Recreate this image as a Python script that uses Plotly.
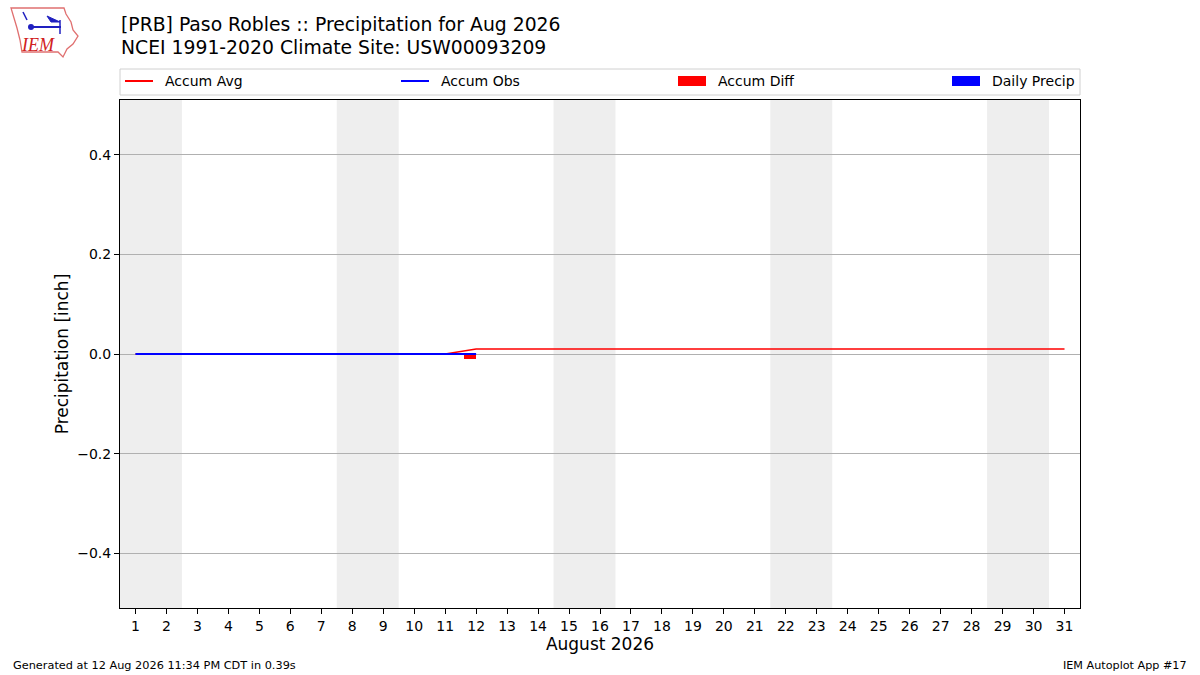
"""
Kumulativne padavine za mjesec — Paso Robles (PRB), avgust 2026.
Replika IEM Autoplot #17 u Plotly-ju.
"""

import plotly.graph_objects as go

# --- podaci ---------------------------------------------------------------
days = list(range(1, 32))
accum_avg = [0.00, 0.00, 0.00, 0.00, 0.00, 0.00, 0.00, 0.00, 0.00, 0.00,
             0.00, 0.01, 0.01, 0.01, 0.01, 0.01, 0.01, 0.01, 0.01, 0.01,
             0.01, 0.01, 0.01, 0.01, 0.01, 0.01, 0.01, 0.01, 0.01, 0.01,
             0.01]
obs_days = list(range(1, 13))
accum_obs = [0.00] * 12
accum_diff = [0.00, 0.00, 0.00, 0.00, 0.00, 0.00, 0.00, 0.00, 0.00, 0.00,
              0.00, -0.01]
daily_precip = [0.00] * 12
weekend_days = [1, 2, 8, 9, 15, 16, 22, 23, 29, 30]
y_ticks = [-0.4, -0.2, 0.0, 0.2, 0.4]

FONT = "DejaVu Sans"
W, H = 1200, 675
# okvir grafika u pikselima (kao u matplotlib originalu)
L, R, T, B = 120, 1080, 100, 608


def px(x):
    """piksel -> paper x (paper = površina grafika)"""
    return (x - L) / (R - L)


def py(y):
    return (B - y) / (B - T)


fig = go.Figure()

fig.add_trace(go.Bar(
    x=obs_days, y=accum_diff, name="Accum Diff", marker_color="#ff0000",
    width=0.4, offset=-0.4, marker_line_width=0, showlegend=False,
))
fig.add_trace(go.Bar(
    x=obs_days, y=daily_precip, name="Daily Precip", marker_color="#0000ff",
    width=0.4, offset=0.0, marker_line_width=0, showlegend=False,
))
fig.add_trace(go.Scatter(
    x=days, y=accum_avg, mode="lines", name="Accum Avg",
    line=dict(color="#ff0000", width=1.6), showlegend=False,
))
fig.add_trace(go.Scatter(
    x=obs_days, y=accum_obs, mode="lines", name="Accum Obs",
    line=dict(color="#0000ff", width=2.2), showlegend=False,
))

shapes = []
annotations = []

# vikendi — sivo zasjenčenje (spojeni susjedni dani)
blocks = []
for d in weekend_days:
    if blocks and d == blocks[-1][1] + 1:
        blocks[-1][1] = d
    else:
        blocks.append([d, d])
for d0, d1 in blocks:
    shapes.append(dict(type="rect", xref="x", yref="paper",
                       x0=d0 - 0.5, x1=d1 + 0.5, y0=0, y1=1,
                       fillcolor="#eeeeee", line_width=0, layer="below"))

# legenda u stilu matplotlib "expand" (ručno)
shapes.append(dict(type="rect", xref="paper", yref="paper",
                   x0=px(120), x1=px(1080), y0=py(95), y1=py(69),
                   line=dict(color="#d0d0d0", width=1), fillcolor="white"))
legend_x = {"Accum Avg": 125, "Accum Obs": 401,
            "Accum Diff": 678, "Daily Precip": 952}
for tr in (fig.data[2], fig.data[3], fig.data[0], fig.data[1]):
    x0 = legend_x[tr.name]
    if tr.type == "scatter":
        shapes.append(dict(type="line", xref="paper", yref="paper",
                           x0=px(x0), x1=px(x0 + 28), y0=py(81), y1=py(81),
                           line=dict(color=tr.line.color, width=2)))
    else:
        shapes.append(dict(type="rect", xref="paper", yref="paper",
                           x0=px(x0), x1=px(x0 + 28), y0=py(86), y1=py(76),
                           fillcolor=tr.marker.color, line_width=0))
    annotations.append(dict(text=tr.name, x=px(x0 + 38), y=py(81),
                            xref="paper", yref="paper", xanchor="left",
                            yanchor="middle", showarrow=False,
                            font=dict(family=FONT, size=14, color="black")))

# grubi IEM logo (obris Ajove + vjetrokaz)
iowa = [(11, 8), (64, 8), (66, 14), (71, 22), (73, 30), (78, 36), (73, 44),
        (67, 49), (63, 57), (58, 52), (22, 52), (20, 40), (17, 28), (14, 18)]
path = "M " + " L ".join(f"{px(x):.5f},{py(y):.5f}" for x, y in iowa) + " Z"
shapes.append(dict(type="path", xref="paper", yref="paper", path=path,
                   line=dict(color="#e07070", width=1.3)))
shapes.append(dict(type="line", xref="paper", yref="paper",
                   x0=px(31), x1=px(61), y0=py(27), y1=py(27),
                   line=dict(color="#2020c0", width=2)))
shapes.append(dict(type="circle", xref="paper", yref="paper",
                   x0=px(28), x1=px(34), y0=py(30), y1=py(24),
                   fillcolor="#2020c0", line_width=0))
shapes.append(dict(type="path", xref="paper", yref="paper",
                   path=(f"M {px(47):.5f},{py(16):.5f} L {px(60):.5f},{py(22):.5f}"
                         f" L {px(51):.5f},{py(22):.5f} Z"),
                   fillcolor="#2020c0", line=dict(color="#2020c0", width=1)))
shapes.append(dict(type="line", xref="paper", yref="paper",
                   x0=px(60), x1=px(60), y0=py(20), y1=py(34),
                   line=dict(color="#2020c0", width=1.5)))
shapes.append(dict(type="line", xref="paper", yref="paper",
                   x0=px(23), x1=px(27), y0=py(12), y1=py(20),
                   line=dict(color="#2020c0", width=1.5)))

annotations += [
    dict(text="[PRB] Paso Robles :: Precipitation for Aug 2026",
         x=px(119), y=py(24), xref="paper", yref="paper",
         xanchor="left", yanchor="middle", showarrow=False,
         font=dict(family=FONT, size=18.8, color="black")),
    dict(text="NCEI 1991-2020 Climate Site: USW00093209",
         x=px(119), y=py(48), xref="paper", yref="paper",
         xanchor="left", yanchor="middle", showarrow=False,
         font=dict(family=FONT, size=18.8, color="black")),
    dict(text="<i>IEM</i>", x=px(38), y=py(45), xref="paper", yref="paper",
         xanchor="center", yanchor="middle", showarrow=False,
         font=dict(family="Liberation Serif", size=18, color="#d02020")),
    dict(text="Generated at 12 Aug 2026 11:34 PM CDT in 0.39s",
         x=px(11), y=py(665), xref="paper", yref="paper",
         xanchor="left", yanchor="middle", showarrow=False,
         font=dict(family=FONT, size=11.3, color="black")),
    dict(text="IEM Autoplot App #17",
         x=px(1189), y=py(665), xref="paper", yref="paper",
         xanchor="right", yanchor="middle", showarrow=False,
         font=dict(family=FONT, size=11.2, color="black")),
]

fig.update_layout(
    width=W, height=H,
    paper_bgcolor="white", plot_bgcolor="white",
    margin=dict(l=L, r=W - R, t=T, b=H - B, pad=0),
    font=dict(family=FONT, size=14, color="black"),
    barmode="overlay",
    bargap=0,
    showlegend=False,
    shapes=shapes,
    annotations=annotations,
    xaxis=dict(
        range=[0.5, 31.5], tickmode="array", tickvals=days,
        ticks="outside", ticklen=5, tickcolor="black",
        showgrid=False, zeroline=False,
        showline=True, linecolor="black", linewidth=1, mirror=True,
        title=dict(text="August 2026", font=dict(size=17), standoff=4),
    ),
    yaxis=dict(
        range=[-0.51, 0.51], tickmode="array", tickvals=y_ticks,
        tickformat=".1f", ticks="outside", ticklen=5, tickcolor="black",
        showgrid=True, gridcolor="#b0b0b0", gridwidth=1,
        zeroline=True, zerolinecolor="#b0b0b0", zerolinewidth=1,
        showline=True, linecolor="black", linewidth=1, mirror=True,
        title=dict(text="Precipitation [inch]", font=dict(size=17),
                   standoff=4),
    ),
)

fig.write_html("out.html", config={"displayModeBar": False},
               post_script="document.body.style.margin='0px';")
